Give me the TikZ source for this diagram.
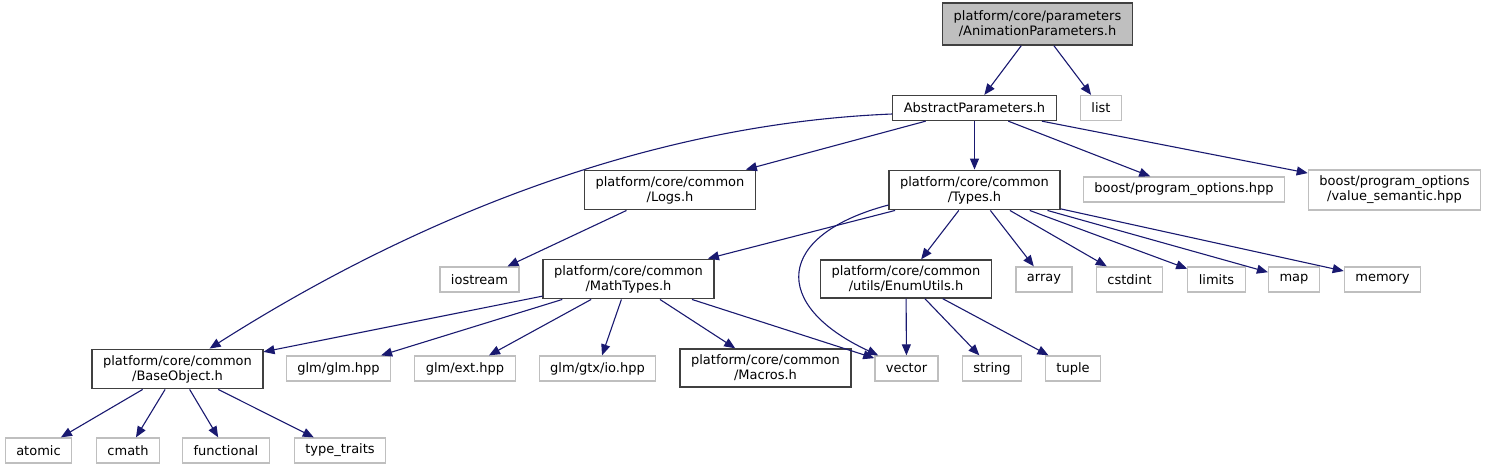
\documentclass[tikz,border=0pt]{standalone}
\usepackage{fontspec}
\setmainfont{DejaVu Sans}
\usetikzlibrary{arrows.meta}

\definecolor{edgeblue}{HTML}{191970}
\definecolor{sysgray}{HTML}{BFBFBF}
\definecolor{userline}{HTML}{404040}

\begin{document}
\begin{tikzpicture}[
        x=1pt, y=-1pt,
        font=\fontsize{13}{15}\selectfont,
        userfile/.style={draw=userline, fill=white, line width=1.3pt, align=center,
            inner xsep=11pt, inner ysep=6pt, minimum height=25pt},
        sysfile/.style={userfile, draw=sysgray},
        mainfile/.style={userfile, fill=sysgray, inner ysep=8pt},
        dep/.style={draw=edgeblue, line width=1.1pt, -{Triangle[length=11pt,width=9pt]}}
    ]
        \useasboundingbox (0,0) rectangle (1486,469);

        % Root
        \node[mainfile] (anim) at (1037.5,24) {platform/core/parameters\\/AnimationParameters.h};

        % Rank 1
        \node[userfile] (abs) at (974.5,108) {AbstractParameters.h};
        \node[sysfile] (list) at (1101,108) {list};

        % Rank 2
        \node[userfile] (logs) at (670,190) {platform/core/common\\/Logs.h};
        \node[userfile] (types) at (974.5,190) {platform/core/common\\/Types.h};
        \node[sysfile] (bpo) at (1184,189.5) {boost/program\_options.hpp};
        \node[sysfile] (bvs) at (1394.5,190) {boost/program\_options\\/value\_semantic.hpp};

        % Rank 3
        \node[sysfile] (iostream) at (479.5,279.5) {iostream};
        \node[userfile] (math) at (628.5,279) {platform/core/common\\/MathTypes.h};
        \node[userfile] (enum) at (906,279) {platform/core/common\\/utils/EnumUtils.h};
        \node[sysfile] (array) at (1044,279.5) {array};
        \node[sysfile] (cstdint) at (1129.5,279.5) {cstdint};
        \node[sysfile] (limits) at (1216.5,279.5) {limits};
        \node[sysfile] (map) at (1294,279.5) {map};
        \node[sysfile] (memory) at (1382.5,279.5) {memory};

        % Rank 4
        \node[userfile] (base) at (177.5,369) {platform/core/common\\/BaseObject.h};
        \node[sysfile] (glm) at (338.5,368.5) {glm/glm.hpp};
        \node[sysfile] (glmext) at (465,368.5) {glm/ext.hpp};
        \node[sysfile] (gtxio) at (597.5,368.5) {glm/gtx/io.hpp};
        \node[userfile] (macros) at (765.5,368) {platform/core/common\\/Macros.h};
        \node[sysfile] (vector) at (906.5,368.5) {vector};
        \node[sysfile] (string) at (992,368.5) {string};
        \node[sysfile] (tuple) at (1073,368.5) {tuple};

        % Rank 5
        \node[sysfile] (atomic) at (38.5,450.5) {atomic};
        \node[sysfile] (cmath) at (128,450.5) {cmath};
        \node[sysfile] (functional) at (226,450.5) {functional};
        \node[sysfile] (typetraits) at (340,450.5) {type\_traits};

        % Includes of AnimationParameters.h
        \draw[dep] (anim) -- (abs);
        \draw[dep] (anim) -- (list);

        % Includes of AbstractParameters.h
        \draw[dep] ([yshift=-6pt]abs.west) .. controls (620,125) and (380,240) .. (base);
        \draw[dep] (abs) -- (logs);
        \draw[dep] (abs) -- (types);
        \draw[dep] (abs) -- (bpo);
        \draw[dep] (abs) -- (bvs);

        % Logs.h
        \draw[dep] (logs) -- (iostream);

        % Types.h
        \draw[dep] (types) -- (math);
        \draw[dep] ([yshift=-15pt]types.west) .. controls (775,235) and (770,305) .. (vector);
        \draw[dep] (types) -- (enum);
        \draw[dep] (types) -- (array);
        \draw[dep] (types) -- (cstdint);
        \draw[dep] (types) -- (limits);
        \draw[dep] (types) -- (map);
        \draw[dep] (types) -- (memory);

        % MathTypes.h
        \draw[dep] (math) -- (base);
        \draw[dep] (math) -- (glm);
        \draw[dep] (math) -- (glmext);
        \draw[dep] (math) -- (gtxio);
        \draw[dep] (math) -- (macros);
        \draw[dep] (math) -- (vector);

        % EnumUtils.h
        \draw[dep] (enum) -- (vector);
        \draw[dep] (enum) -- (string);
        \draw[dep] (enum) -- (tuple);

        % BaseObject.h
        \draw[dep] (base) -- (atomic);
        \draw[dep] (base) -- (cmath);
        \draw[dep] (base) -- (functional);
        \draw[dep] (base) -- (typetraits);

    \end{tikzpicture}
\end{document}
